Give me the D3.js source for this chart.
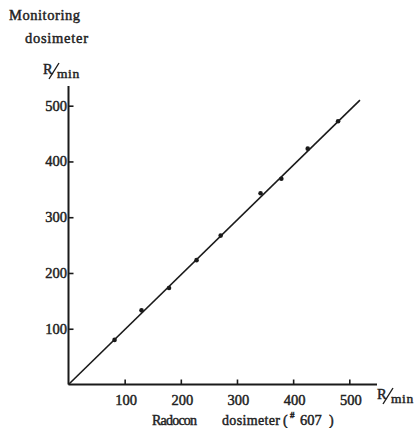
<!DOCTYPE html>
<html><head><meta charset="utf-8">
<script src="https://cdn.jsdelivr.net/npm/d3@7"></script>
<style>
html,body{margin:0;padding:0;background:#fff;}
svg text{font-family:"Liberation Serif","DejaVu Serif",serif;fill:#222;stroke:#222;stroke-width:0.45px;}
</style></head><body>
<svg id="c" width="418" height="428"></svg>
<script>
const radoconValues = [82, 130, 179, 228, 271, 342, 379, 426, 480];
const monitorValues = [80, 133, 173, 223, 267, 343, 369, 423, 472];
const fitLineX = [0, 519];
const fitLineY = [0, 510];
const tickValues = [100, 200, 300, 400, 500];

const svg = d3.select("#c");
const x = d3.scaleLinear().domain([0, 500]).range([68.5, 349.3]);
const y = d3.scaleLinear().domain([0, 500]).range([384.5, 105.7]);
const ink = "#1a1a1a";

// axes lines
svg.append("line").attr("x1", x(0)).attr("x2", 377).attr("y1", y(0)).attr("y2", y(0))
  .attr("stroke", ink).attr("stroke-width", 2);
svg.append("line").attr("x1", x(0)).attr("x2", x(0)).attr("y1", y(0)).attr("y2", 86)
  .attr("stroke", ink).attr("stroke-width", 2);

// ticks (inward)
const xAxis = d3.axisTop(x).tickValues(tickValues).tickSize(5).tickFormat("");
const gx = svg.append("g").attr("transform", `translate(0,${y(0)})`).call(xAxis);
gx.select(".domain").remove();
gx.selectAll(".tick line").attr("stroke", ink).attr("stroke-width", 1.6);
const yAxis = d3.axisRight(y).tickValues(tickValues).tickSize(5).tickFormat("");
const gy = svg.append("g").attr("transform", `translate(${x(0)},0)`).call(yAxis);
gy.select(".domain").remove();
gy.selectAll(".tick line").attr("stroke", ink).attr("stroke-width", 1.6);

// tick labels
svg.selectAll(".xl").data(tickValues).enter().append("text")
  .attr("x", d => x(d) + 1.5).attr("y", 405).attr("text-anchor", "middle")
  .attr("font-size", 14.5).text(d => d);
svg.selectAll(".yl").data(tickValues).enter().append("text")
  .attr("x", 67).attr("y", d => y(d) + 5).attr("text-anchor", "end")
  .attr("font-size", 14.5).text(d => d);

// fit line
svg.append("line")
  .attr("x1", x(fitLineX[0])).attr("y1", y(fitLineY[0]))
  .attr("x2", x(fitLineX[1])).attr("y2", y(fitLineY[1]))
  .attr("stroke", ink).attr("stroke-width", 1.6);

// points
svg.selectAll(".pt").data(radoconValues).enter().append("circle")
  .attr("cx", (d) => x(d)).attr("cy", (d, i) => y(monitorValues[i]))
  .attr("r", 2.3).attr("fill", ink);

// titles
svg.append("text").attr("x", 9).attr("y", 20).attr("font-size", 14.5)
  .attr("textLength", 71).attr("lengthAdjust", "spacing").text("Monitoring");
svg.append("text").attr("x", 25).attr("y", 43).attr("font-size", 14.5)
  .attr("textLength", 63).attr("lengthAdjust", "spacing").text("dosimeter");

function unit(px, py) {
  const g = svg.append("g").attr("transform", `translate(${px},${py})`);
  g.append("text").attr("x", 0).attr("y", 0).attr("font-size", 14.5).text("R");
  g.append("line").attr("x1", 6).attr("y1", 5).attr("x2", 16).attr("y2", -11)
    .attr("stroke", ink).attr("stroke-width", 1.4);
  g.append("text").attr("x", 14).attr("y", 4).attr("font-size", 13.5).attr("letter-spacing", 0.6).text("min");
}
unit(43, 74);
unit(377, 399);

svg.append("text").attr("x", 152).attr("y", 425).attr("font-size", 14)
  .attr("textLength", 45).attr("lengthAdjust", "spacing").text("Radocon");
svg.append("text").attr("x", 222).attr("y", 425).attr("font-size", 14)
  .attr("textLength", 58).attr("lengthAdjust", "spacing").text("dosimeter");
svg.append("text").attr("x", 283).attr("y", 425).attr("font-size", 14).text("(");
svg.append("text").attr("x", 290).attr("y", 418).attr("font-size", 9).text("#");
svg.append("text").attr("x", 300).attr("y", 425).attr("font-size", 14.5).text("607");
svg.append("text").attr("x", 329).attr("y", 425).attr("font-size", 14).text(")");
</script></body></html>
